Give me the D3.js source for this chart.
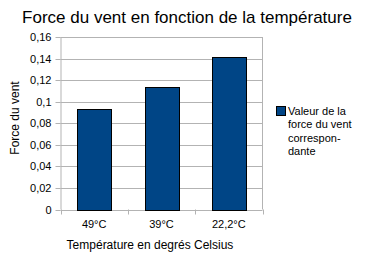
<!DOCTYPE html>
<html>
<head>
<meta charset="utf-8">
<script src="https://cdn.jsdelivr.net/npm/d3@7"></script>
<style>
  body { margin: 0; background: #fff; }
  svg { display: block; font-family: "Liberation Sans", Arial, sans-serif; }
</style>
</head>
<body>
<div id="chart"></div>
<script>
'use strict';

const categories = ['49°C', '39°C', '22,2°C'];
const values = [0.0935, 0.1135, 0.141];
const yTicks = [0, 0.02, 0.04, 0.06, 0.08, 0.1, 0.12, 0.14, 0.16];
const legendLines = ['Valeur de la', 'force du vent', 'correspon-', 'dante'];

const width = 368, height = 265;
const plot = { left: 60.5, right: 262.5, top: 37, bottom: 209.5 };

const svg = d3.select('#chart').append('svg')
    .attr('width', width)
    .attr('height', height);

const x = d3.scaleBand()
    .domain(categories)
    .range([plot.left, plot.right])
    .paddingInner(0.5)
    .paddingOuter(0.25);

const y = d3.scaleLinear()
    .domain([0, 0.16])
    .range([plot.bottom, plot.top]);

const fmt = d => d3.format('~g')(d).replace('.', ',');

// gridlines
svg.append('g')
    .selectAll('line')
    .data(yTicks)
    .join('line')
    .attr('x1', plot.left)
    .attr('x2', plot.right)
    .attr('y1', d => Math.round(y(d)) + 0.5)
    .attr('y2', d => Math.round(y(d)) + 0.5)
    .attr('stroke', '#b3b3b3');

// right border of plot
svg.append('line')
    .attr('x1', plot.right).attr('x2', plot.right)
    .attr('y1', plot.top).attr('y2', plot.bottom)
    .attr('stroke', '#b3b3b3');

// y axis
const yAxis = svg.append('g')
    .attr('transform', `translate(${plot.left},0)`)
    .call(d3.axisLeft(y).tickValues(yTicks).tickFormat(fmt).tickSize(5).tickPadding(4));
yAxis.selectAll('.tick').attr('transform', d => `translate(0,${Math.round(y(d)) + 0.5})`);
yAxis.select('.domain').attr('stroke', '#b3b3b3').attr('d', `M0.5,${plot.top}V${plot.bottom}`);
yAxis.selectAll('.tick line').attr('stroke', '#b3b3b3');
yAxis.selectAll('.tick text').attr('fill', '#000').style('font-size', '11px');

// x axis
const xAxis = svg.append('g')
    .attr('transform', `translate(0,${Math.round(plot.bottom) + 0.5})`)
    .call(d3.axisBottom(x).tickSize(0).tickPadding(10));
xAxis.select('.domain').remove();
xAxis.selectAll('.tick text').attr('fill', '#000').style('font-size', '11px');

// category boundary ticks
const bounds = d3.range(categories.length + 1).map(i => plot.left + i * (plot.right - plot.left) / categories.length);
svg.append('g')
    .selectAll('line')
    .data(bounds)
    .join('line')
    .attr('x1', d => Math.round(d) + 0.5)
    .attr('x2', d => Math.round(d) + 0.5)
    .attr('y1', plot.bottom)
    .attr('y2', plot.bottom + 5)
    .attr('stroke', '#b3b3b3');

// bars
svg.append('g')
    .selectAll('rect')
    .data(values)
    .join('rect')
    .attr('x', (d, i) => Math.round(x(categories[i])) + 0.5)
    .attr('y', d => Math.round(y(d)) + 0.5)
    .attr('width', Math.round(x.bandwidth()))
    .attr('height', d => Math.round(y(0)) - Math.round(y(d)))
    .attr('fill', '#004586')
    .attr('stroke', '#000');

// title
svg.append('text')
    .attr('x', 187)
    .attr('y', 23)
    .attr('text-anchor', 'middle')
    .style('font-size', '17px')
    .text('Force du vent en fonction de la température');

// axis titles
svg.append('text')
    .attr('x', 150)
    .attr('y', 249)
    .attr('text-anchor', 'middle')
    .style('font-size', '12px')
    .text('Température en degrés Celsius');

svg.append('text')
    .attr('transform', 'translate(19,118) rotate(-90)')
    .attr('text-anchor', 'middle')
    .style('font-size', '12px')
    .text('Force du vent');

// legend
const legend = svg.append('g');
legend.append('rect')
    .attr('x', 276.5).attr('y', 106.5)
    .attr('width', 9).attr('height', 9)
    .attr('fill', '#004586')
    .attr('stroke', '#000');
legend.selectAll('text')
    .data(legendLines)
    .join('text')
    .attr('x', 288)
    .attr('y', (d, i) => 115 + i * 13.3)
    .style('font-size', '11px')
    .text(d => d);
</script>
</body>
</html>
